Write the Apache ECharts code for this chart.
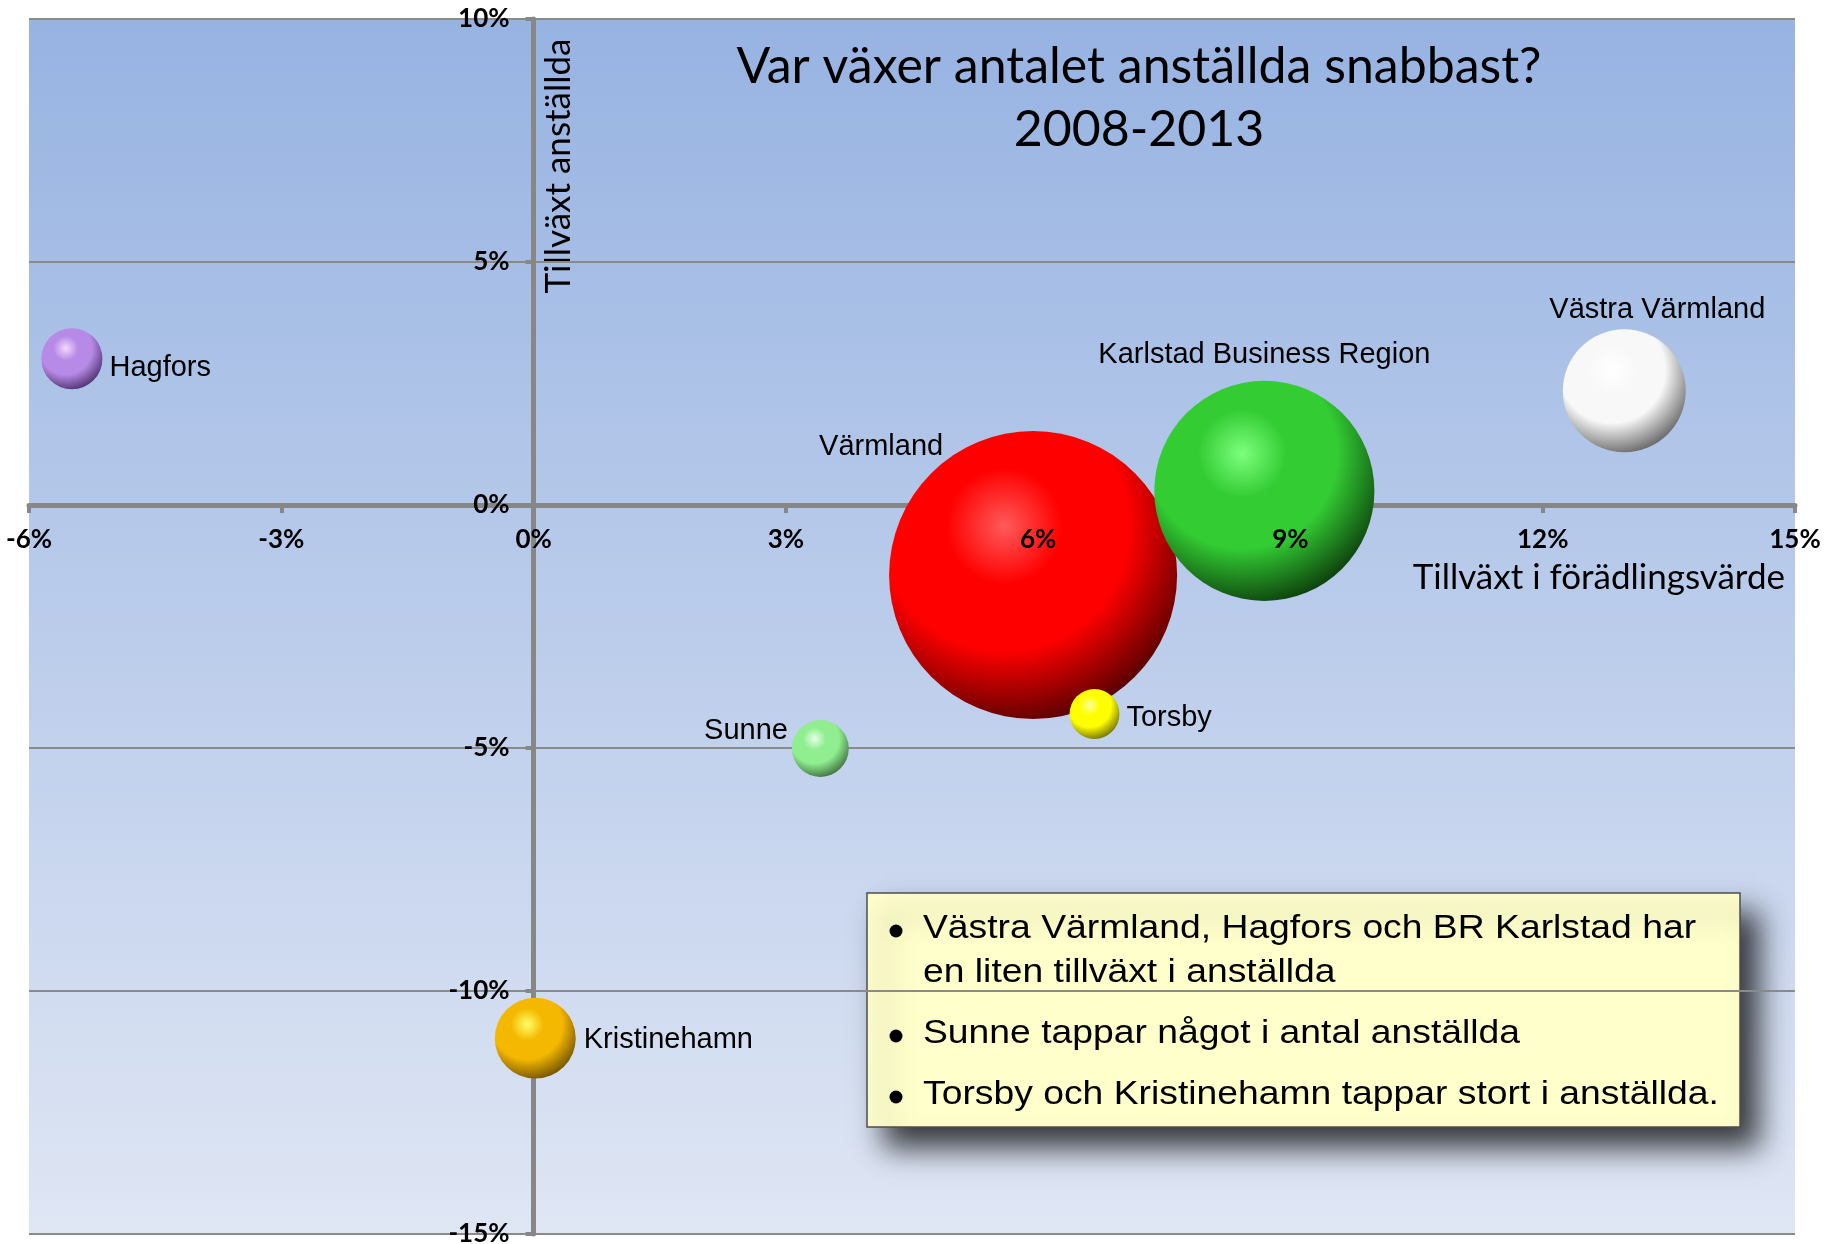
<!DOCTYPE html>
<html>
<head>
<meta charset="utf-8">
<script src="https://cdn.jsdelivr.net/npm/echarts@6.0.0/dist/echarts.min.js"></script>
<style>
  html, body { margin: 0; padding: 0; background: #fff; }
  #chart { width: 1837px; height: 1244px; }
</style>
</head>
<body>
<div id="chart"></div>
<script>
// tillväxt i förädlingsvärde (x, %), tillväxt anställda (y, %), relativ storlek på bubblan
var regioner = ['Hagfors', 'Värmland', 'Karlstad Business Region', 'Västra Värmland', 'Torsby', 'Sunne', 'Kristinehamn'];
var foradlingsvarde = [-5.49, 5.94, 8.69, 12.97, 6.67, 3.41, 0.02];
var anstallda = [3.01, -1.44, 0.29, 2.35, -4.30, -5.01, -10.97];
var storlek = [4.5, 100, 58.4, 18.2, 3.0, 3.9, 7.9];

var xTicks = [-6, -3, 0, 3, 6, 9, 12, 15];
var yTicks = [-15, -10, -5, 0, 5, 10];

var titel = 'Var växer antalet anställda snabbast?\n2008-2013';
var xNamn = 'Tillväxt i förädlingsvärde';
var yNamn = 'Tillväxt anställda';
var punkter = [
  ['Västra Värmland, Hagfors och BR Karlstad har', 'en liten tillväxt i anställda'],
  ['Sunne tappar något i antal anställda'],
  ['Torsby och Kristinehamn tappar stort i anställda.']
];

// färger: ljus, bas, mörk
var klotFarger = {
  'Hagfors': ['#f4d8ff', '#b68ae6', '#4a2c6a'],
  'Värmland': ['#ff5a5a', '#ff0000', '#4a0000'],
  'Karlstad Business Region': ['#7dff7d', '#33cc33', '#0a360a'],
  'Västra Värmland': ['#ffffff', '#f8f8f8', '#5e5e5e'],
  'Torsby': ['#ffffa0', '#ffff00', '#6a6a00'],
  'Sunne': ['#e6ffe6', '#90ee90', '#3a6a3a'],
  'Kristinehamn': ['#ffff66', '#f5b800', '#6a4c00']
};

var etiketter = {
  'Hagfors': { position: 'right', distance: 7, offset: [0, 9] },
  'Värmland': { position: 'inside', offset: [-152, -128] },
  'Karlstad Business Region': { position: 'top', distance: 10, offset: [0, -1] },
  'Västra Värmland': { position: 'top', distance: 8, offset: [33, 3] },
  'Torsby': { position: 'right', distance: 7, offset: [0, 4] },
  'Sunne': { position: 'left', distance: 4, offset: [0, -17] },
  'Kristinehamn': { position: 'right', distance: 8, offset: [0, 2] }
};

function klot(f) {
  return new echarts.graphic.RadialGradient(0.4, 0.33, 0.72, [
    { offset: 0, color: f[0] },
    { offset: 0.28, color: f[1] },
    { offset: 0.6, color: f[1] },
    { offset: 1, color: f[2] }
  ]);
}

var data = regioner.map(function (n, i) {
  return {
    name: n,
    value: [foradlingsvarde[i], anstallda[i], storlek[i]],
    itemStyle: { color: klot(klotFarger[n]), opacity: 1 },
    label: etiketter[n]
  };
});

var axelGra = '#878787';
var calibriLik = 'Lato';
var tickText = { fontFamily: calibriLik, fontWeight: 'bold', fontSize: 26, color: '#000' };

// textruta
var ruta = { x: 867, y: 893, w: 873, h: 234 };
var radY = [[929, 973], [1034], [1095]];
var rutaBarn = [{
  type: 'rect',
  shape: { x: ruta.x, y: ruta.y, width: ruta.w, height: ruta.h },
  style: {
    fill: '#ffffcc', stroke: '#4d4d4d', lineWidth: 1.5,
    shadowBlur: 28, shadowOffsetX: 18, shadowOffsetY: 20, shadowColor: 'rgba(0,0,0,0.75)'
  }
}];
punkter.forEach(function (p, i) {
  rutaBarn.push({
    type: 'circle',
    shape: { cx: 896, cy: radY[i][0] + 2, r: 6.5 },
    style: { fill: '#000' }
  });
  p.forEach(function (rad, j) {
    rutaBarn.push({
      type: 'text',
      x: 923, y: radY[i][j],
      scaleX: 1.13,
      style: {
        text: rad, x: 0, y: 0,
        fill: '#000',
        font: '33px "Liberation Sans", Arial, sans-serif',
        align: 'left', verticalAlign: 'middle',
        textAlign: 'left', textVerticalAlign: 'middle'
      }
    });
  });
});

var chart = echarts.init(document.getElementById('chart'));
var option = {
  backgroundColor: '#ffffff',
  animation: false,
  title: {
    text: titel,
    left: 1134,
    top: 30,
    textAlign: 'center',
    textStyle: {
      fontFamily: calibriLik, fontSize: 50, fontWeight: 'normal',
      lineHeight: 63, color: '#000'
    }
  },
  grid: {
    left: 29, right: 42, top: 19, bottom: 10,
    show: true,
    borderWidth: 0,
    backgroundColor: new echarts.graphic.LinearGradient(0, 0, 0, 1, [
      { offset: 0, color: '#97b3e2' },
      { offset: 1, color: '#dfe6f4' }
    ]),
    outerBoundsMode: 'none'
  },
  xAxis: [
    {
      type: 'value',
      min: xTicks[0], max: xTicks[xTicks.length - 1], interval: 3,
      axisLine: { onZero: true, lineStyle: { color: axelGra, width: 5 } },
      axisTick: { show: true, length: 8, lineStyle: { color: axelGra, width: 4 } },
      axisLabel: { show: false },
      splitLine: { show: false }
    },
    {
      // bara etiketter, ritas ovanpå bubblorna
      type: 'value',
      position: 'bottom',
      z: 10,
      offset: 0,
      min: xTicks[0], max: xTicks[xTicks.length - 1], interval: 3,
      axisLine: { show: false, onZero: false },
      axisTick: { show: false },
      splitLine: { show: false },
      axisLabel: Object.assign({ margin: 22, formatter: '{value}%' }, tickText)
    }
  ],
  yAxis: [
    {
      type: 'value',
      min: yTicks[0], max: yTicks[yTicks.length - 1], interval: 5,
      axisLine: { show: true, onZero: true, lineStyle: { color: axelGra, width: 5 } },
      axisTick: { show: true, length: 8, lineStyle: { color: axelGra, width: 4 } },
      axisLabel: { show: false },
      splitLine: { show: true, lineStyle: { color: '#8a8a8a', width: 2 } }
    },
    {
      type: 'value',
      position: 'left',
      z: 10,
      offset: 0,
      min: yTicks[0], max: yTicks[yTicks.length - 1], interval: 5,
      axisLine: { show: false, onZero: false },
      axisTick: { show: false },
      splitLine: { show: false },
      axisLabel: Object.assign({ margin: 24, formatter: '{value}%' }, tickText)
    }
  ],
  series: [{
    type: 'scatter',
    xAxisIndex: 0,
    yAxisIndex: 0,
    data: data,
    symbolSize: function (val) { return 288 * Math.sqrt(val[2] / 100); },
    itemStyle: { opacity: 1 },
    label: {
      show: true,
      formatter: '{b}',
      fontFamily: '"Liberation Sans", Arial, sans-serif',
      fontSize: 29,
      color: '#000',
      textBorderWidth: 0
    },
    emphasis: { disabled: true }
  }],
  graphic: [
    {
      type: 'text',
      x: 1785, y: 578,
      style: {
        text: xNamn, x: 0, y: 0, fill: '#000',
        font: '35px Lato',
        align: 'right', verticalAlign: 'middle',
        textAlign: 'right', textVerticalAlign: 'middle'
      }
    },
    {
      type: 'text',
      x: 559, y: 166,
      rotation: Math.PI / 2,
      style: {
        text: yNamn, x: 0, y: 0, fill: '#000',
        font: '35px Lato',
        align: 'center', verticalAlign: 'middle',
        textAlign: 'center', textVerticalAlign: 'middle'
      }
    },
    { type: 'group', z: 20, children: rutaBarn }
  ]
};
chart.setOption(option);

// flytta etikettaxlarna till nollpunkten via axlarnas egen skala
var noll = chart.convertToPixel({ gridIndex: 0 }, [0, 0]);
var horn = chart.convertToPixel({ gridIndex: 0 }, [xTicks[0], yTicks[0]]);
chart.setOption({
  xAxis: [{}, { offset: -(horn[1] - noll[1]) }],
  yAxis: [{}, { offset: -(noll[0] - horn[0]) }]
});
</script>
</body>
</html>
